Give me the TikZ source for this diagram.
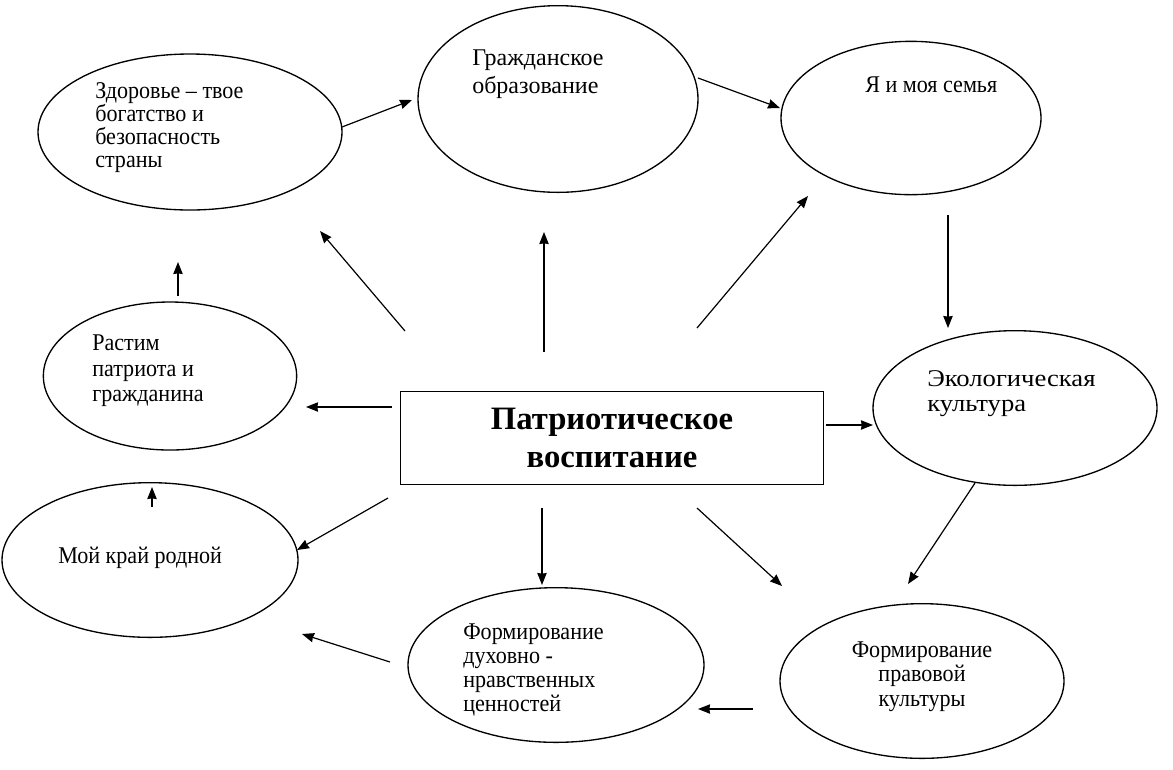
\documentclass[tikz,border=0pt]{standalone}
\usepackage{fontspec}
\setmainfont{Liberation Serif}
\newfontfamily\lblfont[FakeStretch=0.92]{Liberation Serif}
\newfontfamily\lblwide{Liberation Serif}
\newfontfamily\lblwider[FakeStretch=1.11]{Liberation Serif}
\usetikzlibrary{shapes.geometric,arrows.meta}
\begin{document}
\begin{tikzpicture}[x=0.75pt,y=-0.75pt,
  oval/.style={draw,ellipse,line width=1pt,inner sep=0pt},
  lbl/.style={align=left,inner sep=0pt,anchor=north west},
  arr/.style={-{Stealth[length=9pt,width=7pt,inset=0.5pt]},line width=0.9pt}]
\useasboundingbox[fill=white] (0,0) rectangle (1173,769);

% ellipses
\node[oval,minimum width=228pt,minimum height=117pt] (zdor) at (190,132) {};
\node[oval,minimum width=210pt,minimum height=140pt] (grazh) at (558,99) {};
\node[oval,minimum width=195pt,minimum height=115pt] (semya) at (911,118) {};
\node[oval,minimum width=190pt,minimum height=111pt] (rastim) at (170,376) {};
\node[oval,minimum width=213pt,minimum height=116pt] (eco) at (1015,408) {};
\node[oval,minimum width=222pt,minimum height=116pt] (kray) at (150,560) {};
\node[oval,minimum width=222pt,minimum height=116pt] (dukh) at (556,665) {};
\node[oval,minimum width=213pt,minimum height=116pt] (prav) at (922,681) {};

% centre box
\node[draw,line width=1.2pt,minimum width=317pt,minimum height=70pt,align=center,
  font=\fontsize{24.5}{28.5}\selectfont\bfseries] (pat) at (612,438)
  {Патриотическое\\воспитание};

% labels
\node[lbl,font=\lblfont\fontsize{18}{17.25}\selectfont] (tzdor) at (95,82) {Здоровье – твое\\богатство и\\безопасность\\страны};
\node[lbl,font=\lblwide\fontsize{18}{21}\selectfont] (tgrazh) at (472,50) {Гражданское\\образование};
\node[lbl,font=\lblfont\fontsize{18}{19}\selectfont] (tsemya) at (865,77) {Я и моя семья};
\node[lbl,font=\lblfont\fontsize{18}{19}\selectfont] (trastim) at (92,335) {Растим\\патриота и\\гражданина};
\node[lbl,font=\lblwider\fontsize{18}{18.75}\selectfont] (teco) at (927,370) {Экологическая\\культура};
\node[lbl,font=\lblfont\fontsize{18}{19}\selectfont] (tkray) at (58,547) {Мой край родной};
\node[lbl,font=\lblfont\fontsize{18}{18}\selectfont] (tdukh) at (463,623) {Формирование\\духовно -\\нравственных\\ценностей};
\node[lbl,font=\lblfont\fontsize{18}{18}\selectfont,align=center,anchor=north] (tprav) at (922,642) {Формирование\\правовой\\культуры};

% arrow end points
\coordinate (a1s) at (342,127); \coordinate (a1e) at (412,100);
\coordinate (a2s) at (698,78);  \coordinate (a2e) at (780,108);
\coordinate (a3s) at (948,215); \coordinate (a3e) at (948,328);
\coordinate (a4s) at (975,483); \coordinate (a4e) at (908,584);
\coordinate (a5s) at (753,709); \coordinate (a5e) at (698,709);
\coordinate (a6s) at (390,662); \coordinate (a6e) at (302,634);
\coordinate (a7s) at (152,507); \coordinate (a7e) at (152,487);
\coordinate (a8s) at (178,296); \coordinate (a8e) at (178,262);
\coordinate (b1s) at (405,331); \coordinate (b1e) at (320,231);
\coordinate (b2s) at (544,352); \coordinate (b2e) at (544,232);
\coordinate (b3s) at (697,328); \coordinate (b3e) at (808,196);
\coordinate (b4s) at (392,407); \coordinate (b4e) at (306,407);
\coordinate (b5s) at (826,425); \coordinate (b5e) at (873,425);
\coordinate (b6s) at (388,498); \coordinate (b6e) at (297,550);
\coordinate (b7s) at (542,508); \coordinate (b7e) at (542,585);
\coordinate (b8s) at (697,508); \coordinate (b8e) at (782,586);

\foreach \a in {a1,a2,a3,a4,a5,a6,a7,a8,b1,b2,b3,b4,b5,b6,b7,b8}
  \draw[arr] (\a s) -- (\a e);
\end{tikzpicture}
\end{document}
